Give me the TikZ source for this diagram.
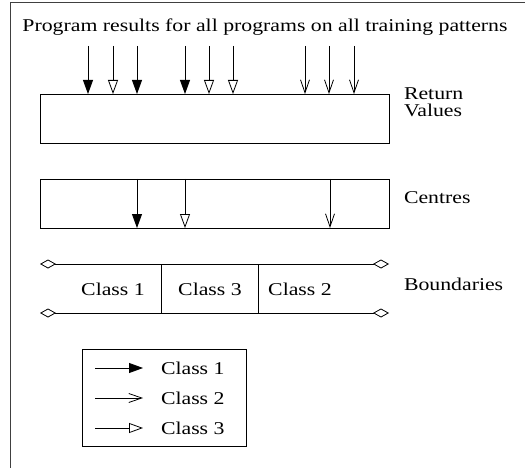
\documentclass[tikz,border=0pt]{standalone}
\usepackage{fontspec}
\setmainfont{Liberation Serif}
\newfontfamily\figfont[FakeStretch=1.21]{Liberation Serif}
\usetikzlibrary{arrows.meta}
\tikzset{
  every node/.style={font=\figfont\fontsize{18}{17.5}\selectfont, inner sep=0pt, outer sep=0pt},
  thin line/.style={line width=0.8pt, draw=black},
  box/.style={thin line, rectangle, fill=white},
  cls one/.style={thin line, -{Triangle[length=14pt,width=10pt]}},
  cls two/.style={thin line, -{Straight Barb[length=13pt,width=9pt,line width=0.8pt]}},
  cls three/.style={thin line, -{Triangle[open,length=14pt,width=10pt,fill=white]}},
  bound/.style={thin line, {Diamond[open,length=16pt,width=9pt,fill=white]}-{Diamond[open,length=16pt,width=9pt,fill=white]}},
  label/.style={anchor=base west, align=left},
}
\begin{document}
\begin{tikzpicture}[x=1pt, y=-1pt]
  \useasboundingbox (0,0) rectangle (525,468);
  % outer frame (only top and left edges lie inside the crop)
  \draw[line width=0.9pt, draw=black!75] (525,2) -- (10,2) -- (10,468);

  % title
  \node[anchor=base] (title) at (265,32) {Program results for all programs on all training patterns};

  % return values
  \node[box, minimum width=349pt, minimum height=49pt] (rv) at (214.5,118.5) {};
  \node[label] (rvlabel) at (404,117) {Return\\Values};

  % incoming program results
  \foreach \name/\x in {a1/88, a2/113, a3/137, a4/185, a5/209, a6/233, a7/305, a8/329, a9/354}
    \coordinate (\name) at (\x,46);
  \foreach \name in {a1, a3, a4}
    \draw[cls one] (\name) -- (\name |- rv.north);
  \foreach \name in {a2, a5, a6}
    \draw[cls three] (\name) -- (\name |- rv.north);
  \foreach \name in {a7, a8, a9}
    \draw[cls two] (\name) -- (\name |- rv.north);

  % centres
  \node[box, minimum width=349pt, minimum height=49pt] (ce) at (214.5,203.5) {};
  \node[label] (celabel) at (404,204) {Centres};
  \coordinate (c1) at (137,0);
  \coordinate (c3) at (185,0);
  \coordinate (c2) at (330,0);
  \draw[cls one] (c1 |- ce.north) -- (c1 |- ce.south);
  \draw[cls three] (c3 |- ce.north) -- (c3 |- ce.south);
  \draw[cls two] (c2 |- ce.north) -- (c2 |- ce.south);

  % boundaries
  \coordinate (bl) at (40,264);
  \coordinate (br) at (389,264);
  \coordinate (bl2) at (40,313);
  \coordinate (br2) at (389,313);
  \draw[bound] (bl) -- (br);
  \draw[bound] (bl2) -- (br2);
  \coordinate (d1) at (161,264);
  \coordinate (d2) at (258,264);
  \draw[thin line] (d1) -- (d1 |- bl2);
  \draw[thin line] (d2) -- (d2 |- bl2);
  \node[anchor=base] (k1) at (113,295) {Class 1};
  \node[anchor=base] (k3) at (210,295) {Class 3};
  \node[anchor=base] (k2) at (300,295) {Class 2};
  \node[label] (bdlabel) at (404,290) {Boundaries};

  % legend
  \node[box, minimum width=164pt, minimum height=97pt] (lg) at (164,397.5) {};
  \coordinate (l1) at (95,368);
  \coordinate (l2) at (95,398);
  \coordinate (l3) at (95,428);
  \coordinate (m1) at (143,368);
  \coordinate (m2) at (143,398);
  \coordinate (m3) at (143,428);
  \draw[cls one] (l1) -- (m1);
  \draw[cls two] (l2) -- (m2);
  \draw[cls three] (l3) -- (m3);
  \node[anchor=base west] (t1) at (161,374) {Class 1};
  \node[anchor=base west] (t2) at (161,404) {Class 2};
  \node[anchor=base west] (t3) at (161,434) {Class 3};
\end{tikzpicture}
\end{document}
